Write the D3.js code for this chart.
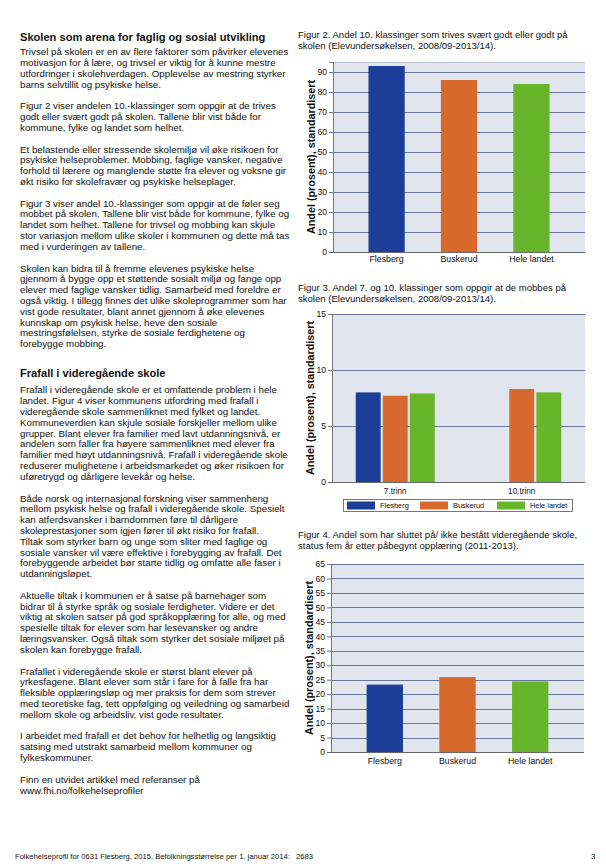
<!DOCTYPE html>
<html><head><meta charset="utf-8">
<script src="https://cdn.jsdelivr.net/npm/d3@7"></script>
<style>
body{margin:0;background:#fff}
svg{display:block}
text{font-family:"Liberation Sans",Arial,Helvetica,sans-serif;fill:#111}
</style>
</head><body>
<svg id="page" width="606" height="866"></svg>
<script>
// ---------------- DATA ----------------
const fig2Categories = ["Flesberg", "Buskerud", "Hele landet"];
const fig2Values = [93, 86, 84];
const fig2Ticks = [0, 10, 20, 30, 40, 50, 60, 70, 80, 90];

const fig3Groups = ["7.trinn", "10.trinn"];
const fig3Series = ["Flesberg", "Buskerud", "Hele landet"];
const fig3Flesberg = [8.0, null];
const fig3Buskerud = [7.7, 8.3];
const fig3HeleLandet = [7.9, 8.0];
const fig3Ticks = [0, 5, 10, 15];

const fig4Categories = ["Flesberg", "Buskerud", "Hele landet"];
const fig4Values = [23.3, 25.9, 24.4];
const fig4Ticks = [0, 5, 10, 15, 20, 25, 30, 35, 40, 45, 50, 55, 60, 65];

const seriesColors = ["#1c3d98", "#d8692c", "#68b52c"];

// ---------------- TEXT ----------------
const heading1 = "Skolen som arena for faglig og sosial utvikling";
const heading2 = "Frafall i videregående skole";
const section1 = [
 ["Trivsel på skolen er en av flere faktorer som påvirker elevenes",
  "motivasjon for å lære, og trivsel er viktig for å kunne mestre",
  "utfordringer i skolehverdagen. Opplevelse av mestring styrker",
  "barns selvtillit og psykiske helse."],
 ["Figur 2 viser andelen 10.-klassinger som oppgir at de trives",
  "godt eller svært godt på skolen. Tallene blir vist både for",
  "kommune, fylke og landet som helhet."],
 ["Et belastende eller stressende skolemiljø vil øke risikoen for",
  "psykiske helseproblemer. Mobbing, faglige vansker, negative",
  "forhold til lærere og manglende støtte fra elever og voksne gir",
  "økt risiko for skolefravær og psykiske helseplager."],
 ["Figur 3 viser andel 10.-klassinger som oppgir at de føler seg",
  "mobbet på skolen. Tallene blir vist både for kommune, fylke og",
  "landet som helhet. Tallene for trivsel og mobbing kan skjule",
  "stor variasjon mellom ulike skoler i kommunen og dette må tas",
  "med i vurderingen av tallene."],
 ["Skolen kan bidra til å fremme elevenes psykiske helse",
  "gjennom å bygge opp et støttende sosialt miljø og fange opp",
  "elever med faglige vansker tidlig. Samarbeid med foreldre er",
  "også viktig. I tillegg finnes det ulike skoleprogrammer som har",
  "vist gode resultater, blant annet gjennom å øke elevenes",
  "kunnskap om psykisk helse, heve den sosiale",
  "mestringsfølelsen, styrke de sosiale ferdighetene og",
  "forebygge mobbing."]
];
const section2 = [
 ["Frafall i videregående skole er et omfattende problem i hele",
  "landet. Figur 4 viser kommunens utfordring med frafall i",
  "videregående skole sammenliknet med fylket og landet.",
  "Kommuneverdien kan skjule sosiale forskjeller mellom ulike",
  "grupper. Blant elever fra familier med lavt utdanningsnivå, er",
  "andelen som faller fra høyere sammenliknet med elever fra",
  "familier med høyt utdanningsnivå. Frafall i videregående skole",
  "reduserer mulighetene i arbeidsmarkedet og øker risikoen for",
  "uføretrygd og dårligere levekår og helse."],
 ["Både norsk og internasjonal forskning viser sammenheng",
  "mellom psykisk helse og frafall i videregående skole. Spesielt",
  "kan atferdsvansker i barndommen føre til dårligere",
  "skoleprestasjoner som igjen fører til økt risiko for frafall.",
  "Tiltak som styrker barn og unge som sliter med faglige og",
  "sosiale vansker vil være effektive i forebygging av frafall. Det",
  "forebyggende arbeidet bør starte tidlig og omfatte alle faser i",
  "utdanningsløpet."],
 ["Aktuelle tiltak i kommunen er å satse på barnehager som",
  "bidrar til å styrke språk og sosiale ferdigheter. Videre er det",
  "viktig at skolen satser på god språkopplæring for alle, og med",
  "spesielle tiltak for elever som har lesevansker og andre",
  "læringsvansker. Også tiltak som styrker det sosiale miljøet på",
  "skolen kan forebygge frafall."],
 ["Frafallet i videregående skole er størst blant elever på",
  "yrkesfagene. Blant elever som står i fare for å falle fra har",
  "fleksible opplæringsløp og mer praksis for dem som strever",
  "med teoretiske fag, tett oppfølging og veiledning og samarbeid",
  "mellom skole og arbeidsliv, vist gode resultater."],
 ["I arbeidet med frafall er det behov for helhetlig og langsiktig",
  "satsing med utstrakt samarbeid mellom kommuner og",
  "fylkeskommuner."],
 ["Finn en utvidet artikkel med referanser på",
  "www.fhi.no/folkehelseprofiler"]
];
const caption2 = ["Figur 2. Andel 10. klassinger som trives svært godt eller godt på",
                  "skolen (Elevundersøkelsen, 2008/09-2013/14)."];
const caption3 = ["Figur 3. Andel 7. og 10. klassinger som oppgir at de mobbes på",
                  "skolen (Elevundersøkelsen, 2008/09-2013/14)."];
const caption4 = ["Figur 4. Andel som har sluttet på/ ikke bestått videregående skole,",
                  "status fem år etter påbegynt opplæring (2011-2013)."];
const yTitle = "Andel (prosent), standardisert";
const footer = "Folkehelseprofil for 0631 Flesberg, 2015. Befolkningsstørrelse per 1. januar 2014:   2683";
const pageNo = "3";

// ---------------- DRAW ----------------
const svg = d3.select("#page");
const LH = 10.8, PGAP = 21.7, BODY = 9.75;

function bodyText(x, yc, s) {
  svg.append("text").attr("x", x).attr("y", yc).attr("dy", "0.35em")
    .attr("font-size", BODY).attr("xml:space", "preserve").text(s);
}
function section(headY, head, paras, firstY) {
  svg.append("text").attr("x", 20).attr("y", headY).attr("dy", "0.35em")
    .attr("font-size", 11.1).attr("font-weight", "bold").text(head);
  let y = firstY;
  paras.forEach(p => {
    p.forEach((l, i) => { bodyText(20, y, l); if (i < p.length - 1) y += LH; });
    y += PGAP;
  });
}
section(36.7, heading1, section1, 51.7);
section(373.3, heading2, section2, 390);

function caption(lines, y0) {
  lines.forEach((l, i) => svg.append("text").attr("x", 298).attr("y", y0 + i * 10.8)
    .attr("dy", "0.35em").attr("font-size", 9.55).text(l));
}
caption(caption2, 35);
caption(caption3, 287.5);
caption(caption4, 535);

svg.append("text").attr("x", 15).attr("y", 856).attr("dy", "0.35em")
  .attr("font-size", 7.6).attr("xml:space", "preserve").text(footer);
svg.append("text").attr("x", 591).attr("y", 856).attr("dy", "0.35em")
  .attr("font-size", 8).text(pageNo);

const BG = "#e0e5ee", GRID = "#56648a", AXIS = "#777";

function frame(x0, x1, yScale, ticks, titleX) {
  const [yb, yt] = yScale.range();
  const g = svg.append("g");
  g.append("rect").attr("x", x0).attr("y", yt).attr("width", x1 - x0).attr("height", yb - yt)
    .attr("fill", BG);
  g.append("line").attr("x1", x0).attr("x2", x1).attr("y1", yt + 0.5).attr("y2", yt + 0.5)
    .attr("stroke", "#b8c0d0").attr("stroke-width", 1);
  g.selectAll("line.grid").data(ticks.filter(t => t > 0)).join("line")
    .attr("class", "grid")
    .attr("x1", x0).attr("x2", x1)
    .attr("y1", d => Math.round(yScale(d)) + 0.5).attr("y2", d => Math.round(yScale(d)) + 0.5)
    .attr("stroke", GRID).attr("stroke-width", 1).attr("opacity", 0.85);
  const ax = d3.axisLeft(yScale).tickValues(ticks).tickSize(4).tickPadding(2);
  const ag = g.append("g").attr("transform", `translate(${x0},0)`).call(ax);
  ag.select(".domain").attr("stroke", AXIS);
  ag.selectAll(".tick line").attr("stroke", AXIS);
  ag.selectAll("text").attr("font-size", 8.6).attr("fill", "#111")
    .style("font-family", '"Liberation Sans",Arial,sans-serif');
  g.append("line").attr("x1", x0 - 4).attr("x2", x1).attr("y1", yb + 0.5).attr("y2", yb + 0.5)
    .attr("stroke", "#666").attr("stroke-width", 1);
  g.append("text").attr("transform", `translate(${titleX},${(yb + yt) / 2}) rotate(-90)`)
    .attr("text-anchor", "middle").attr("dy", "0.35em")
    .attr("font-size", 10.8).attr("font-weight", "bold").text(yTitle);
  return g;
}

function simpleBars(cats, vals, x0, x1, yScale, ticks, titleX, labelY) {
  const g = frame(x0, x1, yScale, ticks, titleX);
  const x = d3.scaleBand().domain(cats).range([x0, x1]).paddingInner(0.5).paddingOuter(0.49);
  const yb = yScale.range()[0];
  g.selectAll("rect.bar").data(cats).join("rect").attr("class", "bar")
    .attr("x", d => x(d)).attr("width", x.bandwidth())
    .attr("y", (d, i) => yScale(vals[i])).attr("height", (d, i) => yb - yScale(vals[i]))
    .attr("fill", (d, i) => seriesColors[i]);
  g.selectAll("text.xl").data(cats).join("text").attr("class", "xl")
    .attr("x", d => x(d) + x.bandwidth() / 2).attr("y", labelY).attr("dy", "0.35em")
    .attr("text-anchor", "middle").attr("font-size", 8.8).text(d => d);
}

// Figure 2
const y2 = d3.scaleLinear().domain([0, 95]).range([252, 62]);
simpleBars(fig2Categories, fig2Values, 333, 585, y2, fig2Ticks, 311, 259);

// Figure 4
const y4 = d3.scaleLinear().domain([0, 65]).range([752, 564]);
simpleBars(fig4Categories, fig4Values, 331, 584, y4, fig4Ticks, 309, 761);

// Figure 3 (grouped)
const y3 = d3.scaleLinear().domain([0, 15]).range([482, 314]);
const g3 = frame(332, 585, y3, fig3Ticks, 310);
const x3 = d3.scaleBand().domain(fig3Groups).range([332, 585]);
const inner = d3.scaleBand().domain(fig3Series).range([0, 79]).paddingInner(0.08);
const fig3Data = [fig3Flesberg, fig3Buskerud, fig3HeleLandet];
const off = (x3.bandwidth() - 79) / 2;
fig3Groups.forEach((grp, gi) => {
  fig3Series.forEach((s, si) => {
    const v = fig3Data[si][gi];
    if (v == null) return;
    g3.append("rect").attr("x", x3(grp) + off + inner(s)).attr("width", inner.bandwidth())
      .attr("y", y3(v)).attr("height", 482 - y3(v)).attr("fill", seriesColors[si]);
  });
  g3.append("text").attr("x", x3(grp) + x3.bandwidth() / 2).attr("y", 491.5).attr("dy", "0.35em")
    .attr("text-anchor", "middle").attr("font-size", 8.2).text(grp);
});
// legend
const lg = svg.append("g");
lg.append("rect").attr("x", 343.5).attr("y", 499.5).attr("width", 229).attr("height", 12)
  .attr("fill", "#fff").attr("stroke", "#555").attr("stroke-width", 0.8);
const legX = d3.scaleOrdinal().domain(fig3Series).range([347, 420, 497]);
fig3Series.forEach((s, i) => {
  lg.append("rect").attr("x", legX(s)).attr("y", 501.5).attr("width", 28).attr("height", 8)
    .attr("fill", seriesColors[i]);
  lg.append("text").attr("x", legX(s) + 33).attr("y", 505.5).attr("dy", "0.35em")
    .attr("font-size", 7.4).text(s);
});
</script>
</body></html>
